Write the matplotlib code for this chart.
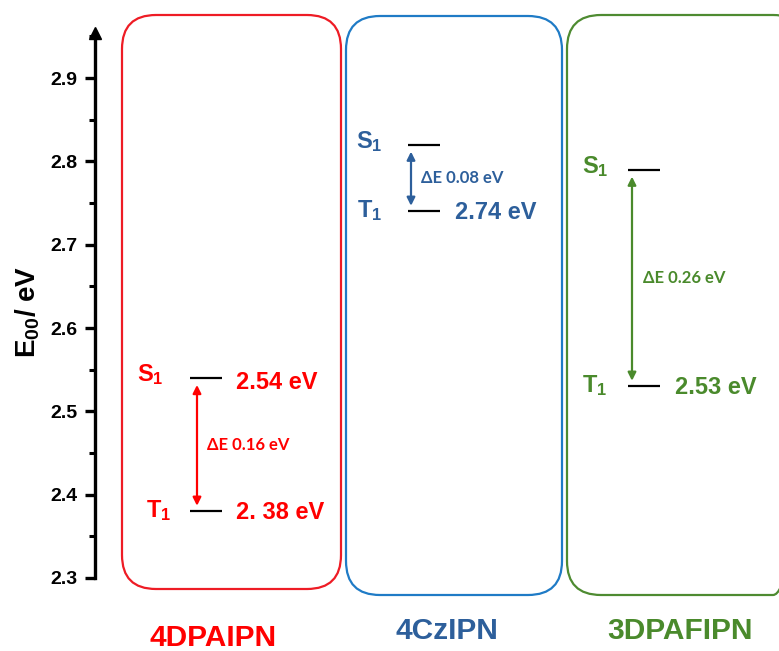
import matplotlib
matplotlib.use("Agg")
import matplotlib.pyplot as plt
from matplotlib.patches import FancyBboxPatch
from matplotlib.ticker import MultipleLocator

plt.rcParams["font.family"] = ["Liberation Sans", "DejaVu Sans"]
plt.rcParams["mathtext.fontset"] = "custom"
plt.rcParams["mathtext.rm"] = "Liberation Sans:bold"
plt.rcParams["mathtext.it"] = "Liberation Sans:bold"
plt.rcParams["mathtext.bf"] = "Liberation Sans:bold"
plt.rcParams["mathtext.default"] = "rm"

# ---- data -------------------------------------------------------------
emitters = ["4DPAIPN", "4CzIPN", "3DPAFIPN"]
t1_energy = [2.38, 2.74, 2.53]          # eV
delta_est = [0.16, 0.08, 0.26]          # eV
s1_energy = [t + d for t, d in zip(t1_energy, delta_est)]
s1_value_labels = ["2.54 eV", "", ""]
t1_value_labels = ["2. 38 eV", "2.74 eV", "2.53 eV"]
y_ticks = [2.3, 2.4, 2.5, 2.6, 2.7, 2.8, 2.9]

# ---- styling ----------------------------------------------------------
text_colors = ["#FF0000", "#2D5F9B", "#4A8A2C"]
box_colors = ["#EE1C25", "#1F7BC6", "#4E8B31"]

W, H = 779, 651
fig = plt.figure(figsize=(W / 100, H / 100), dpi=100)

# background layer in pixel units for the rounded panels and names
bg = fig.add_axes([0, 0, 1, 1], zorder=0)
bg.set_xlim(0, W)
bg.set_ylim(H, 0)
bg.axis("off")

panels = [(122, 15, 219, 574), (346, 16, 216, 579), (567, 15, 240, 580)]
for (x0, y0, w, h), c in zip(panels, box_colors):
    bg.add_patch(FancyBboxPatch((x0, y0), w, h,
                                boxstyle="round,pad=0,rounding_size=34",
                                fill=False, ec=c, lw=1.6))

name_pos = [(213, 638), (447, 631), (680, 631)]
for name, (x, y), c in zip(emitters, name_pos, text_colors):
    bg.text(x, y, name, color=c, fontsize=21.5, fontweight="bold",
            ha="center", va="center")

bg.text(28, 312, "E$_{00}$/ eV", fontsize=20, fontweight="bold",
        rotation=90, ha="center", va="center")

# energy axis
axis_px = 95
y0_px, top_px = 578, 33
px_per_unit = 833.3
ax = fig.add_axes([axis_px / W, (H - y0_px) / H, (W - axis_px) / W,
                   (y0_px - top_px) / H], zorder=1)
ax.patch.set_alpha(0)
ax.set_xlim(0, W - axis_px)
ax.set_ylim(2.3, 2.3 + (y0_px - top_px) / px_per_unit)
for s in ("top", "right", "bottom"):
    ax.spines[s].set_visible(False)
ax.spines["left"].set_linewidth(2.4)
ax.set_xticks([])
ax.set_yticks(y_ticks)
ax.set_yticklabels([f"{v:.1f}" for v in y_ticks])
ax.yaxis.set_minor_locator(MultipleLocator(0.05))
ax.tick_params(axis="y", which="major", direction="out", length=7, width=2.4,
               labelsize=14, pad=5.5)
ax.tick_params(axis="y", which="minor", direction="out", length=4, width=2.2)
for lab in ax.get_yticklabels():
    lab.set_fontweight("bold")
ax.plot([0], [ax.get_ylim()[1]], marker="^", ms=9, color="black",
        clip_on=False, transform=ax.transData)

# per-panel horizontal placement (pixels right of the axis)
level_x = [95, 313, 533]
level_w = 32
arrow_x = [102, 316, 537]
s_lab_x = [42, 261, 487]
t_lab_x = [51, 262, 487]
val_x = [141, 360, 580]
de_x = [112, 326, 548]

for i in range(3):
    c = text_colors[i]
    s1, t1 = s1_energy[i], t1_energy[i]
    ax.hlines([s1, t1], level_x[i], level_x[i] + level_w, color="black", lw=1.6)
    ax.annotate("", xy=(arrow_x[i], s1), xytext=(arrow_x[i], t1),
                arrowprops=dict(arrowstyle="<|-|>", color=c, lw=1.6,
                                mutation_scale=12, shrinkA=4, shrinkB=5))
    ax.text(s_lab_x[i], s1 + 0.004, "S$_1$", color=c, fontsize=17,
            fontweight="bold", va="center", ha="left")
    ax.text(t_lab_x[i], t1 + 0.001, "T$_1$", color=c, fontsize=17,
            fontweight="bold", va="center", ha="left")
    if s1_value_labels[i]:
        ax.text(val_x[i], s1 - 0.005, s1_value_labels[i], color=c, fontsize=17,
                fontweight="bold", va="center", ha="left")
    ax.text(val_x[i], t1 - 0.001, t1_value_labels[i], color=c, fontsize=17,
            fontweight="bold", va="center", ha="left")
    ax.text(de_x[i], (s1 + t1) / 2, f"\u0394E {delta_est[i]:.2f} eV", color=c,
            fontsize=12, fontweight="bold", family=["Lato", "DejaVu Sans"],
            va="center", ha="left")

fig.savefig("out.png", dpi=100)
